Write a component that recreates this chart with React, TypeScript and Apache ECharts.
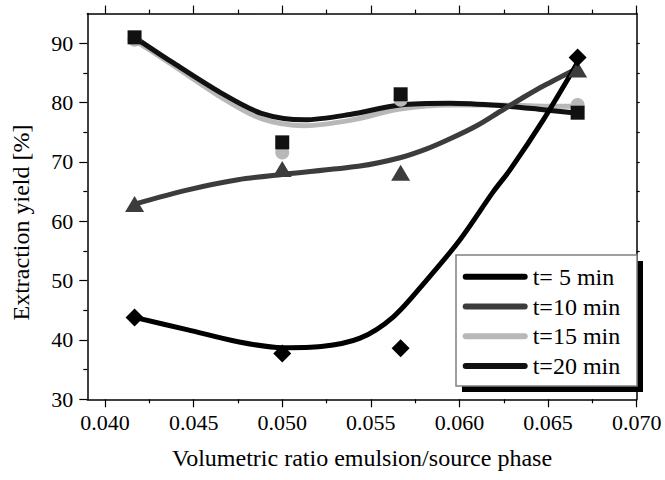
import React, { useEffect, useRef } from "react";
import * as echarts from "echarts";

// ---- data ----
const xTicks = [0.04, 0.045, 0.05, 0.055, 0.06, 0.065, 0.07];
const xMinorTicks = [0.0425, 0.0475, 0.0525, 0.0575, 0.0625, 0.0675];
const yTicks = [30, 40, 50, 60, 70, 80, 90];
const yMinorTicks = [35, 45, 55, 65, 75, 85];
const yAllTicks = [35, 40, 45, 50, 55, 60, 65, 70, 75, 80, 85, 90];

const seriesNames = ["t= 5 min", "t=10 min", "t=15 min", "t=20 min"];
const seriesColors = ["#000000", "#3c3c3c", "#b8b8b8", "#111111"];

// measured points
const t5Points = [[0.041667, 43.8], [0.05, 37.7], [0.05668, 38.6], [0.066667, 87.6]];
const t10Points = [[0.041667, 62.9], [0.05, 68.8], [0.05668, 68.2], [0.066667, 85.6]];
const t15Points = [[0.041667, 90.6], [0.05, 71.6], [0.05668, 80.5], [0.066667, 79.6]];
const t20Points = [[0.041667, 91.0], [0.05, 73.3], [0.05668, 81.4], [0.066667, 78.3]];

// fitted curves
const t5Curve = [
  [0.041667, 43.8], [0.04468, 41.7], [0.0475, 39.7], [0.05, 38.7], [0.0522, 38.9],
  [0.05439, 40.3], [0.05627, 43.9], [0.05815, 50.1], [0.06003, 56.9], [0.06191, 65.0],
  [0.06286, 68.7], [0.06473, 77.1], [0.06642, 85.5], [0.066667, 86.8],
];
const t10Curve = [
  [0.041667, 62.9], [0.04468, 65.3], [0.0475, 67.0], [0.05, 67.9], [0.05439, 69.3],
  [0.05664, 70.7], [0.05815, 72.2], [0.05947, 73.9], [0.06097, 76.1], [0.06229, 78.5],
  [0.06379, 81.2], [0.06473, 82.8], [0.066667, 85.8],
];
const t15Curve = [
  [0.041667, 90.5], [0.04374, 86.5], [0.04656, 80.9], [0.04882, 77.3], [0.05127, 76.1],
  [0.05382, 77.0], [0.05664, 78.9], [0.05947, 79.6], [0.06229, 79.6], [0.06473, 79.4],
  [0.066667, 79.4],
];
const t20Curve = [
  [0.041667, 91.0], [0.04374, 86.9], [0.04656, 81.6], [0.04882, 78.2], [0.05127, 77.1],
  [0.05382, 78.0], [0.05664, 79.6], [0.05947, 79.9], [0.06229, 79.5], [0.06473, 78.8],
  [0.066667, 78.2],
];

const X_MIN = 0.039;
const X_MAX = 0.07;
const Y_MIN = 30;
const Y_MAX = 95;

const FONT = "Liberation Serif";

function xAxisDef(position: "top" | "bottom", ticks: number[], len: number, showLine: boolean, showLabel: boolean, extra: any = {}) {
  return {
    type: "value",
    gridIndex: 0,
    position,
    min: X_MIN,
    max: X_MAX,
    axisLine: { show: showLine, onZero: false, lineStyle: { color: "#000", width: 1.5 } },
    axisTick: { show: true, inside: false, length: len, customValues: ticks, lineStyle: { color: "#000", width: 1.2 } },
    axisLabel: showLabel
      ? {
          show: true,
          customValues: ticks,
          formatter: (v: number) => v.toFixed(3),
          fontFamily: FONT,
          fontSize: 22,
          color: "#000",
          margin: 12,
        }
      : { show: false },
    splitLine: { show: false },
    ...extra,
  };
}

function yAxisDef(position: "left" | "right", ticks: number[], len: number, showLine: boolean, showLabel: boolean) {
  return {
    type: "value",
    gridIndex: 0,
    position,
    min: Y_MIN,
    max: Y_MAX,
    axisLine: { show: showLine, onZero: false, lineStyle: { color: "#000", width: 1.5 } },
    axisTick: { show: true, inside: false, length: len, customValues: ticks, lineStyle: { color: "#000", width: 1.2 } },
    axisLabel: showLabel
      ? { show: true, customValues: ticks, fontFamily: FONT, fontSize: 22, color: "#000", margin: 14 }
      : { show: false },
    splitLine: { show: false },
  };
}

export default function App() {
  const ref = useRef<HTMLDivElement>(null);

  useEffect(() => {
    if (!ref.current) return;
    const chart = echarts.init(ref.current, undefined, { renderer: "svg" });

    const curves = [t5Curve, t10Curve, t15Curve, t20Curve];
    const points = [t5Points, t10Points, t15Points, t20Points];
    const symbols = ["diamond", "triangle", "circle", "rect"];
    const symbolSizes: any[] = [18, [19, 16], 14, 14];

    const lineOrder = [2, 3, 1, 0];
    const pointOrder = [2, 1, 3, 0];

    const lineSeries = lineOrder.map((i) => ({
      type: "line",
      name: seriesNames[i],
      data: curves[i],
      smooth: 0.3,
      symbol: "none",
      color: seriesColors[i],
      lineStyle: { width: 5, color: seriesColors[i], cap: "round", join: "round" },
      itemStyle: { color: seriesColors[i] },
      silent: true,
      z: 2,
    }));
    const pointSeries = pointOrder.map((i) => ({
      type: "scatter",
      name: seriesNames[i] + " data",
      data: points[i],
      symbol: symbols[i],
      symbolSize: symbolSizes[i],
      itemStyle: { color: seriesColors[i], opacity: 1 },
      silent: true,
      z: 3,
    }));

    chart.setOption({
      animation: false,
      backgroundColor: "#fff",
      textStyle: { fontFamily: FONT },
      grid: { left: 87.3, right: 665 - 636.7, top: 13.6, bottom: 480 - 399.3, containLabel: false },
      xAxis: [
        xAxisDef("bottom", xTicks, 8, true, true, {
          name: "Volumetric ratio emulsion/source phase",
          nameLocation: "middle",
          nameGap: 47,
          nameTextStyle: { fontFamily: FONT, fontSize: 24, color: "#000" },
        }),
        xAxisDef("bottom", xMinorTicks, 4, false, false),
        xAxisDef("top", xTicks, 8, true, false),
        xAxisDef("top", xMinorTicks, 4, false, false),
      ],
      yAxis: [
        yAxisDef("left", yTicks, 8, true, true),
        yAxisDef("left", yMinorTicks, 4, false, false),
        yAxisDef("right", yAllTicks, 3, true, false),
      ],
      legend: {
        data: seriesNames,
        orient: "vertical",
        left: 462.7,
        top: 264.7,
        padding: 0,
        itemGap: 5.8,
        itemWidth: 65,
        itemHeight: 6,
        icon: "path://M3,0 L62,0 A3,3 0 0 1 62,6 L3,6 A3,3 0 0 1 3,0 Z",
        itemStyle: { borderWidth: 0 },
        textStyle: { fontFamily: FONT, fontSize: 24, color: "#000", lineHeight: 24 },
        selectedMode: false,
        z: 100,
      },
      graphic: [
        {
          type: "rect",
          z: 50,
          shape: { x: 462, y: 261, width: 181, height: 131 },
          style: { fill: "#000" },
          silent: true,
        },
        {
          type: "rect",
          z: 51,
          shape: { x: 456, y: 255, width: 181, height: 131 },
          style: { fill: "#fff", stroke: "#808080", lineWidth: 1.5 },
          silent: true,
        },
        {
          type: "text",
          z: 52,
          x: 21,
          y: 222.5,
          rotation: Math.PI / 2,
          style: {
            text: "Extraction yield [%]",
            fontFamily: FONT,
            fontSize: 24,
            fill: "#000",
            align: "center",
            verticalAlign: "middle",
          },
        },
      ],
      series: [...lineSeries, ...pointSeries],
    });

    return () => chart.dispose();
  }, []);

  return (
    <div
      ref={ref}
      style={{ position: "fixed", left: 0, top: 0, width: 665, height: 480, background: "#fff" }}
    />
  );
}
